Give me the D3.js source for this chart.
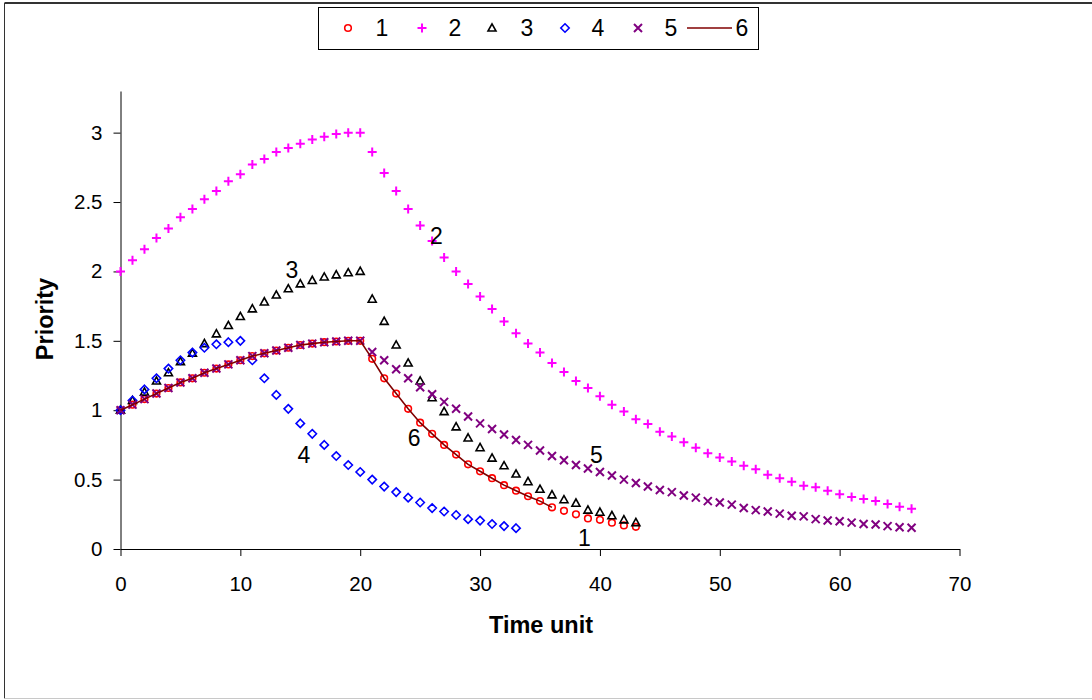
<!DOCTYPE html>
<html>
<head>
<meta charset="utf-8">
<script src="https://cdn.jsdelivr.net/npm/d3@7"></script>
<style>
  body { margin: 0; background: #fff; }
  svg { font-family: "Liberation Sans", Arial, sans-serif; }
</style>
</head>
<body>
<div id="chart"></div>
<script>

// values, index = time unit
const s1 = [1, 1.04, 1.08, 1.12, 1.16, 1.2, 1.23, 1.27, 1.3, 1.33, 1.36, 1.39, 1.41, 1.43, 1.45, 1.47, 1.48, 1.49, 1.495, 1.5, 1.5,
  1.37, 1.23, 1.12, 1.01, 0.91, 0.83, 0.75, 0.68, 0.61, 0.56, 0.51, 0.46, 0.42, 0.38, 0.345, 0.3, 0.275, 0.25, 0.22, 0.21, 0.19, 0.17, 0.16];
const s2 = [2, 2.08, 2.16, 2.24, 2.31, 2.39, 2.45, 2.52, 2.58, 2.65, 2.7, 2.77, 2.81, 2.86, 2.89, 2.92, 2.95, 2.97, 2.99, 3.0, 3.0,
  2.86, 2.71, 2.58, 2.45, 2.33, 2.22, 2.1, 2.0, 1.91, 1.82, 1.73, 1.64, 1.555, 1.48, 1.415, 1.34, 1.275, 1.21, 1.16, 1.1,
  1.04, 0.99, 0.935, 0.9, 0.845, 0.81, 0.77, 0.73, 0.69, 0.66, 0.63, 0.6, 0.575, 0.535, 0.51, 0.485, 0.455, 0.445, 0.42, 0.395,
  0.375, 0.36, 0.345, 0.325, 0.305, 0.29];
const s3 = [1, 1.07, 1.13, 1.21, 1.27, 1.35, 1.41, 1.48, 1.55, 1.61, 1.675, 1.73, 1.78, 1.83, 1.875, 1.91, 1.935, 1.96, 1.975, 1.99, 2.0,
  1.8, 1.64, 1.47, 1.34, 1.21, 1.09, 0.99, 0.88, 0.8, 0.73, 0.655, 0.6, 0.54, 0.485, 0.43, 0.39, 0.355, 0.33, 0.28, 0.265, 0.24, 0.21, 0.19];
const s4 = [1, 1.07, 1.15, 1.23, 1.3, 1.36, 1.415, 1.45, 1.475, 1.49, 1.5,
  1.36, 1.23, 1.11, 1.01, 0.905, 0.83, 0.75, 0.67, 0.605, 0.555, 0.5, 0.45, 0.41, 0.37, 0.335, 0.295, 0.27, 0.245, 0.215, 0.205, 0.18, 0.165, 0.15];
const s5 = [1, 1.04, 1.08, 1.12, 1.16, 1.2, 1.23, 1.27, 1.3, 1.33, 1.36, 1.39, 1.41, 1.43, 1.45, 1.47, 1.48, 1.49, 1.495, 1.5, 1.5,
  1.42, 1.36, 1.295, 1.23, 1.165, 1.115, 1.06, 1.01, 0.955, 0.905, 0.865, 0.825, 0.785, 0.75, 0.71, 0.67, 0.64, 0.605, 0.58, 0.555,
  0.53, 0.5, 0.475, 0.45, 0.425, 0.41, 0.385, 0.37, 0.345, 0.335, 0.32, 0.295, 0.28, 0.27, 0.255, 0.24, 0.235, 0.215, 0.205, 0.2,
  0.19, 0.18, 0.177, 0.165, 0.157, 0.153];
const s6 = [1, 1.04, 1.08, 1.12, 1.16, 1.2, 1.23, 1.27, 1.3, 1.33, 1.36, 1.39, 1.41, 1.43, 1.45, 1.47, 1.48, 1.49, 1.495, 1.5, 1.5,
  1.37, 1.23, 1.12, 1.01, 0.91, 0.83, 0.75, 0.68, 0.61, 0.56, 0.51, 0.46, 0.42, 0.38, 0.345, 0.3];

const seriesNames = ["1", "2", "3", "4", "5", "6"];
const xTicks = [0, 10, 20, 30, 40, 50, 60, 70];
const yTicks = [0, 0.5, 1, 1.5, 2, 2.5, 3];

// in-plot labels: [text, time, priority]
const curveLabels = [["2", 26.35, 2.26], ["3", 14.3, 2.015], ["4", 15.3, 0.677],
  ["6", 24.5, 0.8], ["5", 39.7, 0.677], ["1", 38.7, 0.084]];

const width = 1092, height = 700;

const svg = d3.select("#chart").append("svg")
  .attr("width", width)
  .attr("height", height);

// outer frame
svg.append("line").attr("x1", 4.5).attr("x2", width).attr("y1", 3).attr("y2", 3)
  .attr("stroke", "#333").attr("stroke-width", 2);
svg.append("line").attr("x1", 4.5).attr("x2", 4.5).attr("y1", 3).attr("y2", 698.5)
  .attr("stroke", "#333");
svg.append("line").attr("x1", 4.5).attr("x2", width).attr("y1", 698.5).attr("y2", 698.5)
  .attr("stroke", "#c8c8c8");

const x = d3.scaleLinear().domain([0, 70]).range([120.5, 959.5]);
const y = d3.scaleLinear().domain([0, 3.3]).range([549, 91]);

const xAxis = svg.append("g")
  .attr("transform", `translate(0,${y(0)})`)
  .call(d3.axisBottom(x).tickValues(xTicks).tickSize(7).tickSizeOuter(0).tickPadding(20).tickFormat(d => String(d)));
const yAxis = svg.append("g")
  .attr("transform", `translate(${x(0)},0)`)
  .call(d3.axisLeft(y).tickValues(yTicks).tickSize(7).tickSizeOuter(0).tickPadding(11).tickFormat(d => String(d)));

[xAxis, yAxis].forEach(g => {
  g.selectAll("text").attr("font-size", 20.5).attr("fill", "#000")
    .attr("font-family", "'Liberation Sans', Arial, sans-serif");
  g.selectAll("line, path").attr("stroke", "#000");
});

svg.append("text")
  .attr("x", 541).attr("y", 633)
  .attr("text-anchor", "middle")
  .attr("font-size", 23.5).attr("font-weight", "bold")
  .text("Time unit");

svg.append("text")
  .attr("transform", "translate(53,319) rotate(-90)")
  .attr("text-anchor", "middle")
  .attr("font-size", 23.5).attr("font-weight", "bold")
  .text("Priority");

// marker shapes
const markerPaths = {
  circle: "M3.3,0A3.3,3.3 0 1,1 -3.3,0A3.3,3.3 0 1,1 3.3,0Z",
  plus: "M-4.5,0H4.5M0,-4.5V4.5",
  triangle: "M0,-4.2L4,3L-4,3Z",
  diamond: "M0,-4.2L4.2,0L0,4.2L-4.2,0Z",
  cross: "M-4,-4L4,4M-4,4L4,-4"
};

const series = [
  { name: "1", values: s1, shape: "circle", color: "#ff0000", sw: 1.6 },
  { name: "2", values: s2, shape: "plus", color: "#ff00ff", sw: 2 },
  { name: "3", values: s3, shape: "triangle", color: "#000000", sw: 1.6 },
  { name: "4", values: s4, shape: "diamond", color: "#0000ff", sw: 1.6 },
  { name: "5", values: s5, shape: "cross", color: "#800080", sw: 2 }
];
const lineColor = "#800000";

const plot = svg.append("g");

series.forEach(s => {
  plot.append("g")
    .selectAll("path")
    .data(s.values)
    .join("path")
    .attr("transform", (v, i) => `translate(${x(i)},${y(v)})`)
    .attr("d", markerPaths[s.shape])
    .attr("fill", "none")
    .attr("stroke", s.color)
    .attr("stroke-width", s.sw);
});

const line = d3.line().x((v, i) => x(i)).y(v => y(v));
plot.append("path")
  .datum(s6)
  .attr("d", line)
  .attr("fill", "none")
  .attr("stroke", lineColor)
  .attr("stroke-width", 1.6);

// labels next to curves
svg.append("g")
  .selectAll("text")
  .data(curveLabels)
  .join("text")
  .attr("x", d => x(d[1]))
  .attr("y", d => y(d[2]))
  .attr("dy", "0.36em")
  .attr("text-anchor", "middle")
  .attr("font-size", 23)
  .text(d => d[0]);

// legend
const legend = svg.append("g");
legend.append("rect")
  .attr("x", 318.5).attr("y", 7.5).attr("width", 440).attr("height", 42)
  .attr("fill", "#fff").attr("stroke", "#000");

const legendMarkX = [348, 422, 492, 565, 638];
const legendTextX = [382, 455, 527, 598, 671, 742];
const legendY = 28;

series.forEach((s, i) => {
  legend.append("path")
    .attr("transform", `translate(${legendMarkX[i]},${legendY})`)
    .attr("d", markerPaths[s.shape])
    .attr("fill", "none")
    .attr("stroke", s.color)
    .attr("stroke-width", s.sw);
});
legend.append("line")
  .attr("x1", 687).attr("x2", 732).attr("y1", legendY).attr("y2", legendY)
  .attr("stroke", lineColor).attr("stroke-width", 1.6);

legend.selectAll("text")
  .data(seriesNames)
  .join("text")
  .attr("x", (d, i) => legendTextX[i])
  .attr("y", legendY)
  .attr("dy", "0.36em")
  .attr("text-anchor", "middle")
  .attr("font-size", 23)
  .text(d => d);

</script>
</body>
</html>
